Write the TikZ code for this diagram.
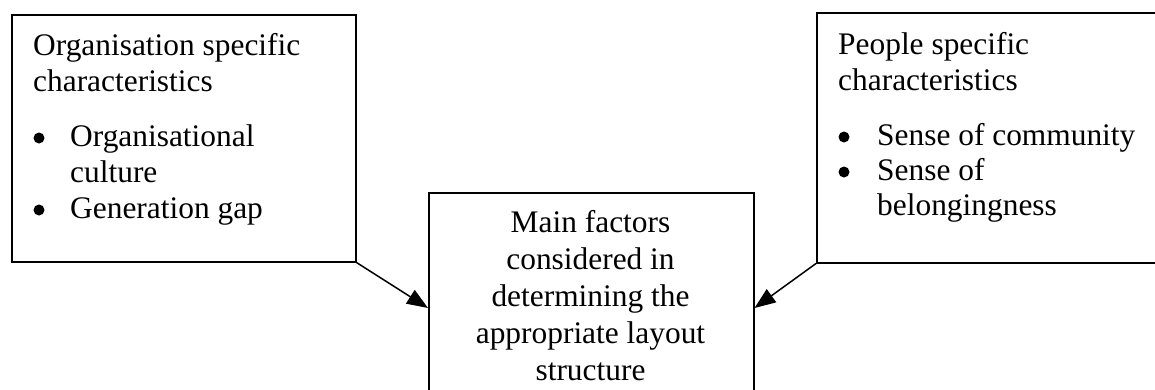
\documentclass[tikz,border=0pt]{standalone}
\usepackage{fontspec}
\setmainfont{Liberation Serif}
\usetikzlibrary{arrows.meta}

\tikzset{
  box/.style={draw, line width=1.5pt, inner sep=0pt, anchor=north west},
  txt/.style={inner sep=0pt, anchor=base west, font=\fontsize{31.4}{36}\selectfont},
  ctxt/.style={txt, anchor=base},
  dot/.style={circle, fill, inner sep=0pt, minimum size=11pt},
  link/.style={line width=1.5pt, -{Triangle[length=21pt,width=16pt]}}
}

\begin{document}
\begin{tikzpicture}[x=1pt,y=-1pt]
\useasboundingbox (0,0) rectangle (1155,389);

% draw boxes
\node[box, minimum width=344pt, minimum height=247pt] (org) at (11,14) {};
\node[box, minimum width=345pt, minimum height=250pt] (people) at (816,12) {};
\node[box, minimum width=325pt, minimum height=225pt] (main) at (428,192) {};

% organisation specific characteristics
\node[txt] (org-h1) at (33,55) {Organisation specific};
\node[txt] (org-h2) at (33,91) {characteristics};
\node[dot] (org-b1) at (39,138) {};
\node[dot] (org-b2) at (39,210) {};
\foreach[count=\i] \t/\y in {Organisational/146,culture/182,Generation gap/218}
{
	\node[txt] (org-i\i) at (70,\y) {\t};
}

% people specific characteristics
\node[txt] (ppl-h1) at (838,54) {People specific};
\node[txt] (ppl-h2) at (838,90) {characteristics};
\node[dot] (ppl-b1) at (844,137) {};
\node[dot] (ppl-b2) at (844,172) {};
\foreach[count=\i] \t/\y in {Sense of community/145,Sense of/180,belongingness/215}
{
	\node[txt] (ppl-i\i) at (877,\y) {\t};
}

% main factors
\foreach[count=\i] \t in {Main factors,considered in,determining the,appropriate layout,structure}
{
	\node[ctxt] (main-\i) at (590.5,196+36.8*\i) {\t};
}

% draw arrows
\coordinate (main-l) at ([yshift=-116pt]main.north west);
\coordinate (main-r) at ([yshift=-116pt]main.north east);
\draw[link] (org.south east) -- (main-l);
\draw[link] (people.south west) -- (main-r);

\end{tikzpicture}
\end{document}
